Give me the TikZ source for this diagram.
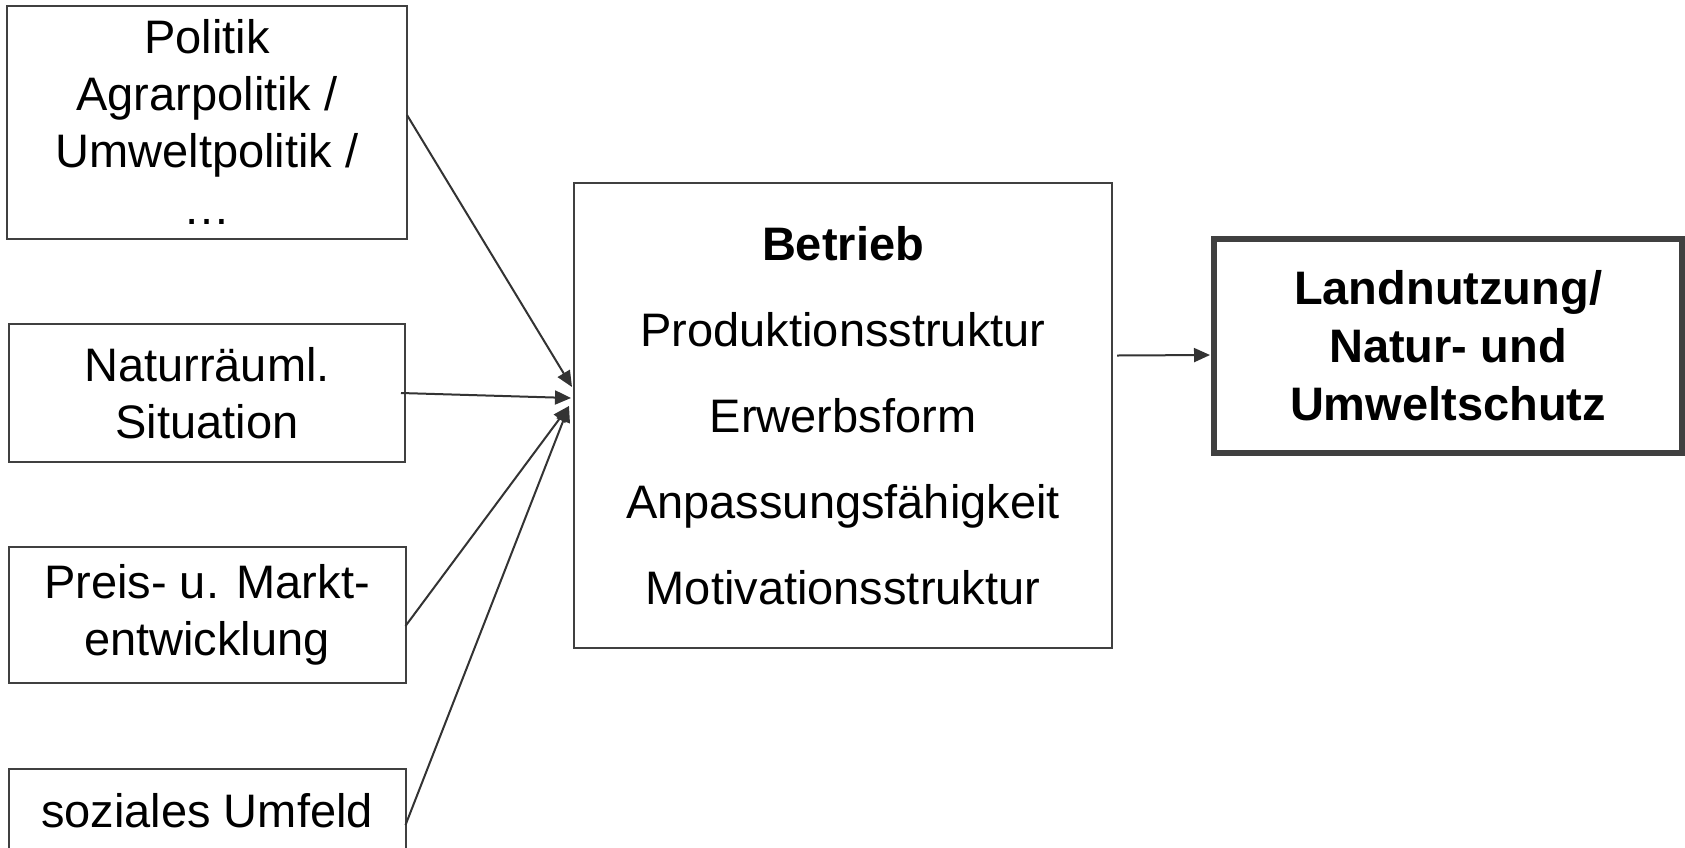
\documentclass[tikz,border=0pt]{standalone}
\usepackage{fontspec}
\setmainfont{Liberation Sans}
\usetikzlibrary{arrows.meta}
\definecolor{boxgray}{HTML}{404040}
\definecolor{arrgray}{HTML}{333333}
\begin{document}
\begin{tikzpicture}[x=0.5pt,y=-0.5pt,
  box/.style={draw=boxgray, line width=1pt, inner sep=0pt, outer sep=0pt, align=center, font=\fontsize{23.5}{28.5}\selectfont},
  conn/.style={draw=arrgray, line width=1pt, -{Triangle[length=8pt,width=7pt]}}]
\useasboundingbox (0,0) rectangle (1685,847);
\fill[white] (0,0) rectangle (1685,847);
\node[box, minimum width=200pt, minimum height=116.5pt] (pol) at (207,122) {Politik\\Agrarpolitik /\\Umweltpolitik /\\…};
\node[box, minimum width=198pt, minimum height=69pt] (nat) at (207,393) {Naturräuml.\\Situation};
\node[box, minimum width=198.5pt, minimum height=68pt] (pre) at (207,615) {Preis- u. Markt-\\entwicklung};
\node[box, minimum width=198.5pt, minimum height=42pt] (soz) at (207,811) {soziales Umfeld};
\node[box, minimum width=269pt, minimum height=232.5pt, font=\fontsize{23.5}{43}\selectfont] (bet) at (843,415.5) {\textbf{Betrieb}\\Produktionsstruktur\\Erwerbsform\\Anpassungsfähigkeit\\Motivationsstruktur};
\node[box, line width=3pt, minimum width=234pt, minimum height=107pt, font=\bfseries\fontsize{23.5}{29}\selectfont] (land) at (1448,346) {Landnutzung/\\Natur- und\\Umweltschutz};
\draw[conn] ([yshift=3.5pt]pol.east) -- ([xshift=-1pt,yshift=14.25pt]bet.west);
\draw[conn] ([xshift=-2pt]nat.east) -- ([xshift=-1.5pt,yshift=8.75pt]bet.west);
\draw[conn] ([yshift=-5.5pt]pre.east) -- ([xshift=-2.5pt,yshift=4.75pt]bet.west);
\draw[conn] ([yshift=-7pt]soz.east) -- ([xshift=-2.5pt,yshift=4.75pt]bet.west);
\draw[conn] ([xshift=2.5pt,yshift=30pt]bet.east) -- ([xshift=-2pt,yshift=-4.5pt]land.west);
\end{tikzpicture}
\end{document}
